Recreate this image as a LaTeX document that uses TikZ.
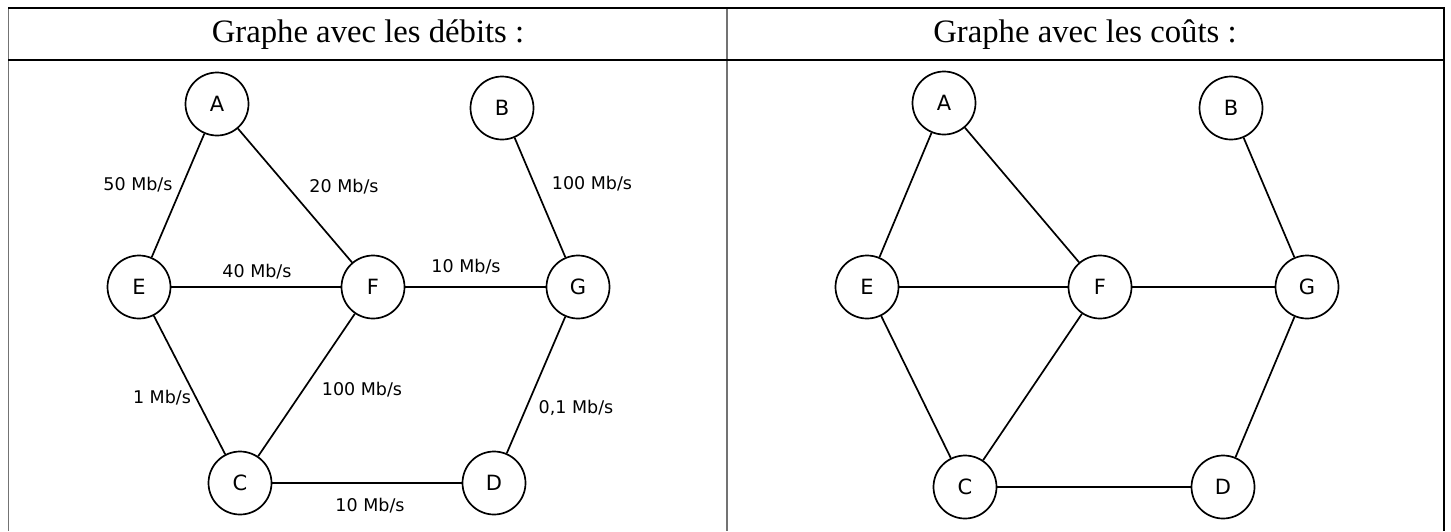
\documentclass[tikz,border=0pt]{standalone}
\usepackage{fontspec}
\setmainfont{Liberation Serif}
\newfontfamily\djv{DejaVu Sans}
\begin{document}
\begin{tikzpicture}[x=1pt,y=-1pt,
  vtx/.style={circle,draw,line width=1.7pt,minimum size=63pt,inner sep=0pt,font=\djv\fontsize{21}{24}\selectfont},
  lbl/.style={inner sep=0pt,font=\djv\fontsize{17.5}{20}\selectfont,text=black},
  edge/.style={line width=1.7pt},
  head/.style={font=\fontsize{32.7}{38}\selectfont},
  tline/.style={line width=1.3pt},
  gline/.style={line width=1.6pt,black!55}]
\useasboundingbox (0,0) rectangle (1451,531);
% table
\draw[gline] (8.5,8) -- (8.5,531);
\draw[gline] (727,8) -- (727,531);
\draw[tline] (1444,8) -- (1444,531);
\draw[tline] (8,8) -- (1444.5,8);
\draw[tline] (8,60) -- (1444.5,60);
\node[head] (h1) at (368,35) {Graphe avec les débits :};
\node[head] (h2) at (1085,35) {Graphe avec les coûts :};
% left graph
\node[vtx] (A) at (217,104) {A};
\node[vtx] (B) at (502,108) {B};
\node[vtx] (E) at (139,287) {E};
\node[vtx] (F) at (373,287) {F};
\node[vtx] (G) at (578,287) {G};
\node[vtx] (C) at (240,483) {C};
\node[vtx] (D) at (494,483) {D};
\draw[edge] (A) -- (E);
\draw[edge] (A) -- (F);
\draw[edge] (B) -- (G);
\draw[edge] (E) -- (F);
\draw[edge] (F) -- (G);
\draw[edge] (E) -- (C);
\draw[edge] (F) -- (C);
\draw[edge] (G) -- (D);
\draw[edge] (C) -- (D);
\node[lbl] (l1) at (138,185) {50 Mb/s};
\node[lbl] (l2) at (344,187) {20 Mb/s};
\node[lbl] (l3) at (592,184) {100 Mb/s};
\node[lbl] (l4) at (257,272) {40 Mb/s};
\node[lbl] (l5) at (466,267) {10 Mb/s};
\node[lbl] (l6) at (162,398) {1 Mb/s};
\node[lbl] (l7) at (362,390) {100 Mb/s};
\node[lbl] (l8) at (576,408) {0,1 Mb/s};
\node[lbl] (l9) at (370,506) {10 Mb/s};
% right graph
\node[vtx] (A2) at (944,103) {A};
\node[vtx] (B2) at (1231,108) {B};
\node[vtx] (E2) at (867,287) {E};
\node[vtx] (F2) at (1100,287) {F};
\node[vtx] (G2) at (1307,287) {G};
\node[vtx] (C2) at (965,487) {C};
\node[vtx] (D2) at (1223,487) {D};
\draw[edge] (A2) -- (E2);
\draw[edge] (A2) -- (F2);
\draw[edge] (B2) -- (G2);
\draw[edge] (E2) -- (F2);
\draw[edge] (F2) -- (G2);
\draw[edge] (E2) -- (C2);
\draw[edge] (F2) -- (C2);
\draw[edge] (G2) -- (D2);
\draw[edge] (C2) -- (D2);
\end{tikzpicture}
\end{document}
